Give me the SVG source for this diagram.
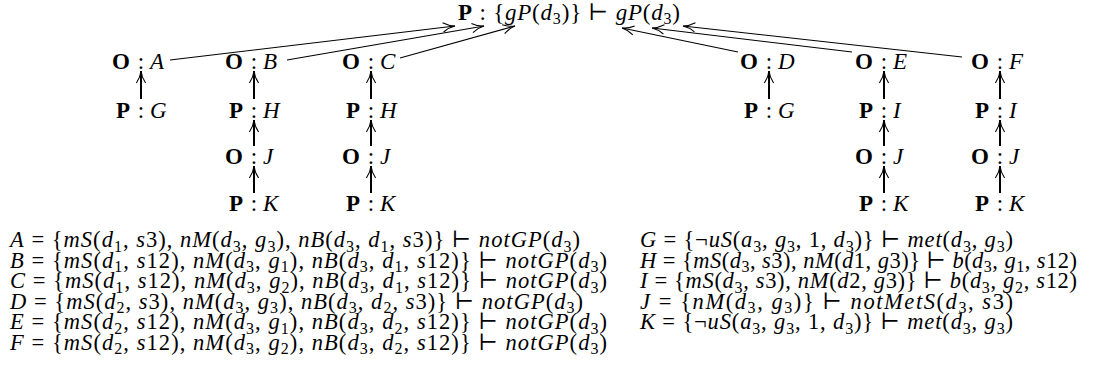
<svg xmlns="http://www.w3.org/2000/svg" width="1097" height="384" viewBox="0 0 1097 384">
<style>
.t{font-family:"Liberation Serif","DejaVu Serif",serif;font-size:22.5px;fill:#000}
.n{font-family:"Liberation Serif","DejaVu Serif",serif;font-size:23px;fill:#000}
.i{font-style:italic}
.b{font-weight:bold}
.s{font-size:16px}
.ln{stroke:#000;stroke-width:1.1;fill:none}
.v{stroke:#000;stroke-width:2;fill:none}
</style>
<defs>
<marker id="ah" markerUnits="userSpaceOnUse" markerWidth="16" markerHeight="12" refX="14" refY="6" orient="auto" viewBox="0 0 16 12">
<path d="M2,1.4 Q8,5.4 14,6 Q8,6.6 2,10.6" fill="none" stroke="#000" stroke-width="1.1"/>
</marker>
</defs>
<rect width="1097" height="384" fill="#fff"/>
<g id="connectors">
<path class="ln" d="M170,60 L455,26" marker-end="url(#ah)"/>
<path class="ln" d="M287,60 L484,26" marker-end="url(#ah)"/>
<path class="ln" d="M400,58 L515,26" marker-end="url(#ah)"/>
<path class="ln" d="M738,52 L622,28" marker-end="url(#ah)"/>
<path class="ln" d="M852,52 L652,28" marker-end="url(#ah)"/>
<path class="ln" d="M962,57 L683,26" marker-end="url(#ah)"/>
<line class="v" x1="141" y1="99" x2="141" y2="71" marker-end="url(#ah)"/>
<line class="v" x1="254" y1="99" x2="254" y2="71" marker-end="url(#ah)"/>
<line class="v" x1="254" y1="146" x2="254" y2="120" marker-end="url(#ah)"/>
<line class="v" x1="254" y1="193" x2="254" y2="166" marker-end="url(#ah)"/>
<line class="v" x1="371" y1="99" x2="371" y2="71" marker-end="url(#ah)"/>
<line class="v" x1="371" y1="146" x2="371" y2="120" marker-end="url(#ah)"/>
<line class="v" x1="371" y1="193" x2="371" y2="166" marker-end="url(#ah)"/>
<line class="v" x1="769" y1="99" x2="769" y2="71" marker-end="url(#ah)"/>
<line class="v" x1="884" y1="99" x2="884" y2="71" marker-end="url(#ah)"/>
<line class="v" x1="884" y1="146" x2="884" y2="120" marker-end="url(#ah)"/>
<line class="v" x1="884" y1="193" x2="884" y2="166" marker-end="url(#ah)"/>
<line class="v" x1="1000" y1="99" x2="1000" y2="71" marker-end="url(#ah)"/>
<line class="v" x1="1000" y1="146" x2="1000" y2="120" marker-end="url(#ah)"/>
<line class="v" x1="1000" y1="193" x2="1000" y2="166" marker-end="url(#ah)"/>
</g>
<g id="root">
<text class="n" x="458" y="19.5" textLength="222" lengthAdjust="spacing"><tspan class="b">P</tspan> : {<tspan class="i">gP</tspan>(<tspan class="i">d</tspan><tspan class="s" dy="4.5">3</tspan><tspan dy="-4.5">)} ⊢ </tspan><tspan class="i">gP</tspan>(<tspan class="i">d</tspan><tspan class="s" dy="4.5">3</tspan><tspan dy="-4.5">)</tspan></text>
</g>
<g id="oA"><text class="n" y="68.5"><tspan class="b" x="112">O</tspan><tspan x="137.8">:</tspan><tspan class="i" x="150">A</tspan></text></g>
<g id="oB"><text class="n" y="68.5"><tspan class="b" x="225">O</tspan><tspan x="250.8">:</tspan><tspan class="i" x="263">B</tspan></text></g>
<g id="oC"><text class="n" y="68.5"><tspan class="b" x="342">O</tspan><tspan x="367.8">:</tspan><tspan class="i" x="380">C</tspan></text></g>
<g id="oD"><text class="n" y="68.5"><tspan class="b" x="740">O</tspan><tspan x="765.8">:</tspan><tspan class="i" x="778">D</tspan></text></g>
<g id="oE"><text class="n" y="68.5"><tspan class="b" x="855">O</tspan><tspan x="880.8">:</tspan><tspan class="i" x="893">E</tspan></text></g>
<g id="oF"><text class="n" y="68.5"><tspan class="b" x="971">O</tspan><tspan x="996.8">:</tspan><tspan class="i" x="1009">F</tspan></text></g>
<g id="pG1"><text class="n" y="117.5"><tspan class="b" x="116">P</tspan><tspan x="137.8">:</tspan><tspan class="i" x="150">G</tspan></text></g>
<g id="pH1"><text class="n" y="117.5"><tspan class="b" x="229">P</tspan><tspan x="250.8">:</tspan><tspan class="i" x="263">H</tspan></text></g>
<g id="pH2"><text class="n" y="117.5"><tspan class="b" x="346">P</tspan><tspan x="367.8">:</tspan><tspan class="i" x="380">H</tspan></text></g>
<g id="pG2"><text class="n" y="117.5"><tspan class="b" x="744">P</tspan><tspan x="765.8">:</tspan><tspan class="i" x="778">G</tspan></text></g>
<g id="pI1"><text class="n" y="117.5"><tspan class="b" x="859">P</tspan><tspan x="880.8">:</tspan><tspan class="i" x="893">I</tspan></text></g>
<g id="pI2"><text class="n" y="117.5"><tspan class="b" x="975">P</tspan><tspan x="996.8">:</tspan><tspan class="i" x="1009">I</tspan></text></g>
<g id="oJ1"><text class="n" y="164"><tspan class="b" x="225">O</tspan><tspan x="250.8">:</tspan><tspan class="i" x="263">J</tspan></text></g>
<g id="oJ2"><text class="n" y="164"><tspan class="b" x="342">O</tspan><tspan x="367.8">:</tspan><tspan class="i" x="380">J</tspan></text></g>
<g id="oJ3"><text class="n" y="164"><tspan class="b" x="855">O</tspan><tspan x="880.8">:</tspan><tspan class="i" x="893">J</tspan></text></g>
<g id="oJ4"><text class="n" y="164"><tspan class="b" x="971">O</tspan><tspan x="996.8">:</tspan><tspan class="i" x="1009">J</tspan></text></g>
<g id="pK1"><text class="n" y="210.5"><tspan class="b" x="229">P</tspan><tspan x="250.8">:</tspan><tspan class="i" x="263">K</tspan></text></g>
<g id="pK2"><text class="n" y="210.5"><tspan class="b" x="346">P</tspan><tspan x="367.8">:</tspan><tspan class="i" x="380">K</tspan></text></g>
<g id="pK3"><text class="n" y="210.5"><tspan class="b" x="859">P</tspan><tspan x="880.8">:</tspan><tspan class="i" x="893">K</tspan></text></g>
<g id="pK4"><text class="n" y="210.5"><tspan class="b" x="975">P</tspan><tspan x="996.8">:</tspan><tspan class="i" x="1009">K</tspan></text></g>
<g id="legend-left">
<text class="t" x="10" y="247" textLength="570" lengthAdjust="spacing"><tspan class="i">A</tspan> = {<tspan class="i">mS</tspan>(<tspan class="i">d</tspan><tspan class="s" dy="4.5">1</tspan><tspan dy="-4.5">, </tspan><tspan class="i">s</tspan>3), <tspan class="i">nM</tspan>(<tspan class="i">d</tspan><tspan class="s" dy="4.5">3</tspan><tspan dy="-4.5">, </tspan><tspan class="i">g</tspan><tspan class="s" dy="4.5">3</tspan><tspan dy="-4.5">), </tspan><tspan class="i">nB</tspan>(<tspan class="i">d</tspan><tspan class="s" dy="4.5">3</tspan><tspan dy="-4.5">, </tspan><tspan class="i">d</tspan><tspan class="s" dy="4.5">1</tspan><tspan dy="-4.5">, </tspan><tspan class="i">s</tspan>3)} ⊢ <tspan class="i">notGP</tspan>(<tspan class="i">d</tspan><tspan class="s" dy="4.5">3</tspan><tspan dy="-4.5">)</tspan></text>
<text class="t" x="10" y="267.5" textLength="597" lengthAdjust="spacing"><tspan class="i">B</tspan> = {<tspan class="i">mS</tspan>(<tspan class="i">d</tspan><tspan class="s" dy="4.5">1</tspan><tspan dy="-4.5">, </tspan><tspan class="i">s</tspan>12), <tspan class="i">nM</tspan>(<tspan class="i">d</tspan><tspan class="s" dy="4.5">3</tspan><tspan dy="-4.5">, </tspan><tspan class="i">g</tspan><tspan class="s" dy="4.5">1</tspan><tspan dy="-4.5">), </tspan><tspan class="i">nB</tspan>(<tspan class="i">d</tspan><tspan class="s" dy="4.5">3</tspan><tspan dy="-4.5">, </tspan><tspan class="i">d</tspan><tspan class="s" dy="4.5">1</tspan><tspan dy="-4.5">, </tspan><tspan class="i">s</tspan>12)} ⊢ <tspan class="i">notGP</tspan>(<tspan class="i">d</tspan><tspan class="s" dy="4.5">3</tspan><tspan dy="-4.5">)</tspan></text>
<text class="t" x="10" y="288" textLength="597" lengthAdjust="spacing"><tspan class="i">C</tspan> = {<tspan class="i">mS</tspan>(<tspan class="i">d</tspan><tspan class="s" dy="4.5">1</tspan><tspan dy="-4.5">, </tspan><tspan class="i">s</tspan>12), <tspan class="i">nM</tspan>(<tspan class="i">d</tspan><tspan class="s" dy="4.5">3</tspan><tspan dy="-4.5">, </tspan><tspan class="i">g</tspan><tspan class="s" dy="4.5">2</tspan><tspan dy="-4.5">), </tspan><tspan class="i">nB</tspan>(<tspan class="i">d</tspan><tspan class="s" dy="4.5">3</tspan><tspan dy="-4.5">, </tspan><tspan class="i">d</tspan><tspan class="s" dy="4.5">1</tspan><tspan dy="-4.5">, </tspan><tspan class="i">s</tspan>12)} ⊢ <tspan class="i">notGP</tspan>(<tspan class="i">d</tspan><tspan class="s" dy="4.5">3</tspan><tspan dy="-4.5">)</tspan></text>
<text class="t" x="10" y="308.5" textLength="573" lengthAdjust="spacing"><tspan class="i">D</tspan> = {<tspan class="i">mS</tspan>(<tspan class="i">d</tspan><tspan class="s" dy="4.5">2</tspan><tspan dy="-4.5">, </tspan><tspan class="i">s</tspan>3), <tspan class="i">nM</tspan>(<tspan class="i">d</tspan><tspan class="s" dy="4.5">3</tspan><tspan dy="-4.5">, </tspan><tspan class="i">g</tspan><tspan class="s" dy="4.5">3</tspan><tspan dy="-4.5">), </tspan><tspan class="i">nB</tspan>(<tspan class="i">d</tspan><tspan class="s" dy="4.5">3</tspan><tspan dy="-4.5">, </tspan><tspan class="i">d</tspan><tspan class="s" dy="4.5">2</tspan><tspan dy="-4.5">, </tspan><tspan class="i">s</tspan>3)} ⊢ <tspan class="i">notGP</tspan>(<tspan class="i">d</tspan><tspan class="s" dy="4.5">3</tspan><tspan dy="-4.5">)</tspan></text>
<text class="t" x="10" y="329" textLength="597" lengthAdjust="spacing"><tspan class="i">E</tspan> = {<tspan class="i">mS</tspan>(<tspan class="i">d</tspan><tspan class="s" dy="4.5">2</tspan><tspan dy="-4.5">, </tspan><tspan class="i">s</tspan>12), <tspan class="i">nM</tspan>(<tspan class="i">d</tspan><tspan class="s" dy="4.5">3</tspan><tspan dy="-4.5">, </tspan><tspan class="i">g</tspan><tspan class="s" dy="4.5">1</tspan><tspan dy="-4.5">), </tspan><tspan class="i">nB</tspan>(<tspan class="i">d</tspan><tspan class="s" dy="4.5">3</tspan><tspan dy="-4.5">, </tspan><tspan class="i">d</tspan><tspan class="s" dy="4.5">2</tspan><tspan dy="-4.5">, </tspan><tspan class="i">s</tspan>12)} ⊢ <tspan class="i">notGP</tspan>(<tspan class="i">d</tspan><tspan class="s" dy="4.5">3</tspan><tspan dy="-4.5">)</tspan></text>
<text class="t" x="10" y="349.5" textLength="597" lengthAdjust="spacing"><tspan class="i">F</tspan> = {<tspan class="i">mS</tspan>(<tspan class="i">d</tspan><tspan class="s" dy="4.5">2</tspan><tspan dy="-4.5">, </tspan><tspan class="i">s</tspan>12), <tspan class="i">nM</tspan>(<tspan class="i">d</tspan><tspan class="s" dy="4.5">3</tspan><tspan dy="-4.5">, </tspan><tspan class="i">g</tspan><tspan class="s" dy="4.5">2</tspan><tspan dy="-4.5">), </tspan><tspan class="i">nB</tspan>(<tspan class="i">d</tspan><tspan class="s" dy="4.5">3</tspan><tspan dy="-4.5">, </tspan><tspan class="i">d</tspan><tspan class="s" dy="4.5">2</tspan><tspan dy="-4.5">, </tspan><tspan class="i">s</tspan>12)} ⊢ <tspan class="i">notGP</tspan>(<tspan class="i">d</tspan><tspan class="s" dy="4.5">3</tspan><tspan dy="-4.5">)</tspan></text>
</g>
<g id="legend-right">
<text class="t" x="640" y="247" textLength="373" lengthAdjust="spacing"><tspan class="i">G</tspan> = {¬<tspan class="i">uS</tspan>(<tspan class="i">a</tspan><tspan class="s" dy="4.5">3</tspan><tspan dy="-4.5">, </tspan><tspan class="i">g</tspan><tspan class="s" dy="4.5">3</tspan><tspan dy="-4.5">, 1, </tspan><tspan class="i">d</tspan><tspan class="s" dy="4.5">3</tspan><tspan dy="-4.5">)} ⊢ </tspan><tspan class="i">met</tspan>(<tspan class="i">d</tspan><tspan class="s" dy="4.5">3</tspan><tspan dy="-4.5">, </tspan><tspan class="i">g</tspan><tspan class="s" dy="4.5">3</tspan><tspan dy="-4.5">)</tspan></text>
<text class="t" x="640" y="267.5" textLength="437" lengthAdjust="spacing"><tspan class="i">H</tspan> = {<tspan class="i">mS</tspan>(<tspan class="i">d</tspan><tspan class="s" dy="4.5">3</tspan><tspan dy="-4.5">, </tspan><tspan class="i">s</tspan>3), <tspan class="i">nM</tspan>(<tspan class="i">d</tspan>1, <tspan class="i">g</tspan>3)} ⊢ <tspan class="i">b</tspan>(<tspan class="i">d</tspan><tspan class="s" dy="4.5">3</tspan><tspan dy="-4.5">, </tspan><tspan class="i">g</tspan><tspan class="s" dy="4.5">1</tspan><tspan dy="-4.5">, </tspan><tspan class="i">s</tspan>12)</text>
<text class="t" x="640" y="288" textLength="437" lengthAdjust="spacing"><tspan class="i">I</tspan> = {<tspan class="i">mS</tspan>(<tspan class="i">d</tspan><tspan class="s" dy="4.5">3</tspan><tspan dy="-4.5">, </tspan><tspan class="i">s</tspan>3), <tspan class="i">nM</tspan>(<tspan class="i">d</tspan>2, <tspan class="i">g</tspan>3)} ⊢ <tspan class="i">b</tspan>(<tspan class="i">d</tspan><tspan class="s" dy="4.5">3</tspan><tspan dy="-4.5">, </tspan><tspan class="i">g</tspan><tspan class="s" dy="4.5">2</tspan><tspan dy="-4.5">, </tspan><tspan class="i">s</tspan>12)</text>
<text class="t" x="640" y="308.5" textLength="373" lengthAdjust="spacing"><tspan class="i">J</tspan> = {<tspan class="i">nM</tspan>(<tspan class="i">d</tspan><tspan class="s" dy="4.5">3</tspan><tspan dy="-4.5">, </tspan><tspan class="i">g</tspan><tspan class="s" dy="4.5">3</tspan><tspan dy="-4.5">)} ⊢ </tspan><tspan class="i">notMetS</tspan>(<tspan class="i">d</tspan><tspan class="s" dy="4.5">3</tspan><tspan dy="-4.5">, </tspan><tspan class="i">s</tspan>3)</text>
<text class="t" x="640" y="329" textLength="373" lengthAdjust="spacing"><tspan class="i">K</tspan> = {¬<tspan class="i">uS</tspan>(<tspan class="i">a</tspan><tspan class="s" dy="4.5">3</tspan><tspan dy="-4.5">, </tspan><tspan class="i">g</tspan><tspan class="s" dy="4.5">3</tspan><tspan dy="-4.5">, 1, </tspan><tspan class="i">d</tspan><tspan class="s" dy="4.5">3</tspan><tspan dy="-4.5">)} ⊢ </tspan><tspan class="i">met</tspan>(<tspan class="i">d</tspan><tspan class="s" dy="4.5">3</tspan><tspan dy="-4.5">, </tspan><tspan class="i">g</tspan><tspan class="s" dy="4.5">3</tspan><tspan dy="-4.5">)</tspan></text>
</g>
</svg>
